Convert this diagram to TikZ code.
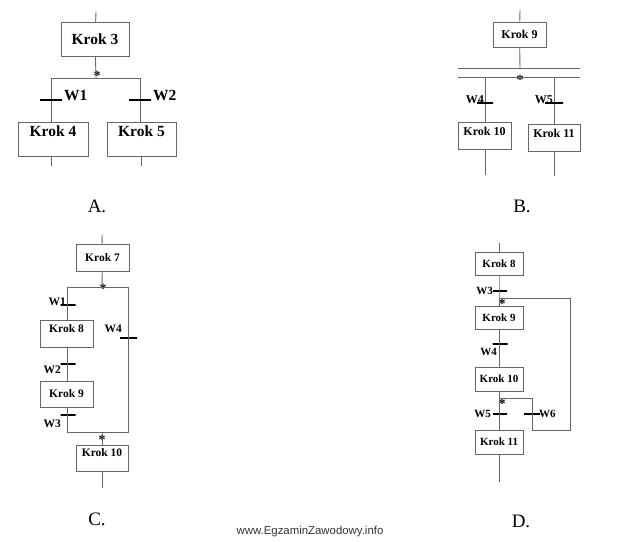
\documentclass[tikz,border=0pt]{standalone}
\usepackage{fontspec}
\setmainfont{Liberation Serif}
\newfontfamily\wwwfont{Liberation Sans}
\newcommand\grA{\fontsize{15.5}{17}\selectfont}
\newcommand\grB{\fontsize{12}{13}\selectfont}
\newcommand\grC{\fontsize{11.5}{13}\selectfont}
\newcommand\grD{\fontsize{11}{12}\selectfont}
\tikzset{
  lin/.style={draw=black!60, line width=.9pt},
  krok/.style={draw=black!60, line width=.9pt, font=\bfseries, inner sep=2pt},
  bar/.style={draw=black, line width=1.3pt, minimum height=0pt, inner sep=0pt},
  wlab/.style={font=\bfseries, inner sep=0pt},
  stern/.style={font=\bfseries\fontsize{14}{14}\selectfont, inner sep=0pt},
  nr/.style={font=\fontsize{19}{20}\selectfont, inner sep=0pt}
}
\begin{document}
\begin{tikzpicture}[x=1pt, y=-1pt]
  \path[use as bounding box] (0,0) rectangle (621,541);
  % A
  \coordinate (a0) at (96,12);
  \node[krok, font=\bfseries\grA, minimum width=68, minimum height=34] (k3) at (95,39) {Krok 3};
  \coordinate (aM) at (96,78);
  \coordinate (aL) at (51,78);
  \coordinate (aR) at (140,78);
  \node[stern] (sA) at (97,76) {*};
  \node[bar, minimum width=22, line width=1.6pt] (w1) at (51,100) {};
  \node[bar, minimum width=22, line width=1.6pt] (w2) at (140,100) {};
  \node[wlab, font=\bfseries\grA, anchor=base west] at ([xshift=1pt]w1.east) {W1};
  \node[wlab, font=\bfseries\grA, anchor=base west] at ([xshift=1pt]w2.east) {W2};
  \node[krok, font=\bfseries\grA, minimum width=70, minimum height=34, text height=11pt, text depth=17pt] (k4) at (53,139) {Krok 4};
  \node[krok, font=\bfseries\grA, minimum width=69, minimum height=34, text height=11pt, text depth=17pt] (k5) at (141.5,139) {Krok 5};
  \coordinate (a4) at (51,166);
  \coordinate (a5) at (141,166);
  \draw[lin] (a0) -- (k3);
  \draw[lin] (k3) -- (aM);
  \draw[lin] (aL) -- (aR);
  \draw[lin] (aL) -- (w1) -- (w1 |- k4.north);
  \draw[lin] (aR) -- (w2) -- (w2 |- k5.north);
  \draw[lin] (a4 |- k4.south) -- (a4);
  \draw[lin] (a5 |- k5.south) -- (a5);
  \node[nr] (lA) at (97,206) {A.};
  % B
  \coordinate (b0) at (520,10);
  \node[krok, font=\bfseries\grB, minimum width=53, minimum height=25] (k9) at (519.5,34.5) {Krok 9};
  \coordinate (bM) at (520,68);
  \coordinate (bL1) at (458,68);
  \coordinate (bR1) at (580,68);
  \coordinate (bL2) at (458,77);
  \coordinate (bR2) at (580,77);
  \node[stern] (sB) at (520,80) {*};
  \node[bar, minimum width=16] (w4) at (485,103) {};
  \node[bar, minimum width=18] (w5) at (554,103) {};
  \node[wlab, font=\bfseries\grB, anchor=base east] at (484,103) {W4};
  \node[wlab, font=\bfseries\grB, anchor=base east] at (553,103) {W5};
  \node[krok, font=\bfseries\grB, minimum width=53, minimum height=27, text height=8.5pt, text depth=9.5pt] (k10) at (484.5,135.5) {Krok 10};
  \node[krok, font=\bfseries\grB, minimum width=52, minimum height=27, text height=8.5pt, text depth=9.5pt] (k11) at (554,137.5) {Krok 11};
  \coordinate (b10) at (485,175);
  \coordinate (b11) at (554,176);
  \draw[lin] (b0) -- (k9);
  \draw[lin] (k9) -- (bM);
  \draw[lin] (bL1) -- (bR1);
  \draw[lin] (bL2) -- (bR2);
  \draw[lin] (w4 |- bL2) -- (w4) -- (w4 |- k10.north);
  \draw[lin] (w5 |- bL2) -- (w5) -- (w5 |- k11.north);
  \draw[lin] (b10 |- k10.south) -- (b10);
  \draw[lin] (b11 |- k11.south) -- (b11);
  \node[nr] (lB) at (522,206) {B.};
  % C
  \coordinate (c0) at (102,235);
  \node[krok, font=\bfseries\grC, minimum width=53, minimum height=27] (k7) at (102.5,257.5) {Krok 7};
  \coordinate (cM) at (102,287);
  \coordinate (cL) at (67,287);
  \coordinate (cR) at (128,287);
  \node[stern] (sC) at (103,289) {*};
  \node[bar, minimum width=15] (w1c) at (68,305) {};
  \node[wlab, font=\bfseries\grC, anchor=base east] at (66,305) {W1};
  \node[krok, font=\bfseries\grC, minimum width=53, minimum height=27, text height=8pt, text depth=11pt] (k8) at (66.5,333.5) {Krok 8};
  \node[bar, minimum width=15] (w2c) at (68,364) {};
  \node[wlab, font=\bfseries\grC, anchor=base east] at (61,373) {W2};
  \node[krok, font=\bfseries\grC, minimum width=53, minimum height=26] (k9c) at (66.5,394) {Krok 9};
  \node[bar, minimum width=15] (w3c) at (68,415) {};
  \node[wlab, font=\bfseries\grC, anchor=base east] at (61,427) {W3};
  \coordinate (cBL) at (67,432);
  \coordinate (cBR) at (128,432);
  \coordinate (cBM) at (102,432);
  \node[stern] (sC2) at (102,440) {*};
  \node[bar, minimum width=17] (w4c) at (128.5,338) {};
  \node[wlab, font=\bfseries\grC, anchor=base east] at (122,332) {W4};
  \node[krok, font=\bfseries\grC, minimum width=52, minimum height=26, text height=8pt, text depth=12pt] (k10c) at (102,458) {Krok 10};
  \coordinate (c10) at (102,488);
  \draw[lin] (c0) -- (k7);
  \draw[lin] (k7) -- (cM);
  \draw[lin] (cL) -- (cR) -- (cBR) -- (cBL);
  \draw[lin] (cL) -- (cL |- k8.north);
  \draw[lin] (cL |- k8.south) -- (cL |- k9c.north);
  \draw[lin] (cL |- k9c.south) -- (cBL);
  \draw[lin] (cBM) -- (k10c);
  \draw[lin] (k10c) -- (c10);
  \node[nr] (lC) at (97,519) {C.};
  % D
  \coordinate (d0) at (499,243);
  \node[krok, font=\bfseries\grD, minimum width=48, minimum height=23] (k8d) at (499,263.5) {Krok 8};
  \node[bar, minimum width=14] (w3d) at (500,291) {};
  \node[wlab, font=\bfseries\grD, anchor=east] at (493,291) {W3};
  \coordinate (dM) at (499,298);
  \coordinate (dR) at (570,298);
  \node[stern] (sD) at (502,304) {*};
  \node[krok, font=\bfseries\grD, minimum width=48, minimum height=23] (k9d) at (499,317.5) {Krok 9};
  \node[bar, minimum width=15] (w4d) at (500,344) {};
  \node[wlab, font=\bfseries\grD, anchor=base east] at (497,355) {W4};
  \node[krok, font=\bfseries\grD, minimum width=48, minimum height=24] (k10d) at (499,379) {Krok 10};
  \coordinate (dN) at (499,398);
  \coordinate (dK) at (532,398);
  \node[stern] (sD2) at (502,404) {*};
  \node[bar, minimum width=14] (w5d) at (500,414) {};
  \node[wlab, font=\bfseries\grD, anchor=east] at (491,414) {W5};
  \node[bar, minimum width=16] (w6d) at (532,414) {};
  \node[wlab, font=\bfseries\grD, anchor=west] at (539,414) {W6};
  \coordinate (dKb) at (532,430);
  \coordinate (dRb) at (570,430);
  \node[krok, font=\bfseries\grD, minimum width=48, minimum height=24] (k11d) at (499,442) {Krok 11};
  \coordinate (d11) at (499,482);
  \draw[lin] (d0) -- (k8d);
  \draw[lin] (k8d) -- (dM) -- (k9d);
  \draw[lin] (k9d) -- (k10d);
  \draw[lin] (k10d) -- (k11d);
  \draw[lin] (k11d) -- (d11);
  \draw[lin] (dM) -- (dR) -- (dRb) -- (dKb) -- (dK) -- (dN);
  \node[nr] (lD) at (521,521) {D.};
  % Quelle
  \node[font=\wwwfont\fontsize{11.4}{12}\selectfont, text=black!80, inner sep=0pt] (www) at (310,532) {www.EgzaminZawodowy.info};
\end{tikzpicture}
\end{document}
